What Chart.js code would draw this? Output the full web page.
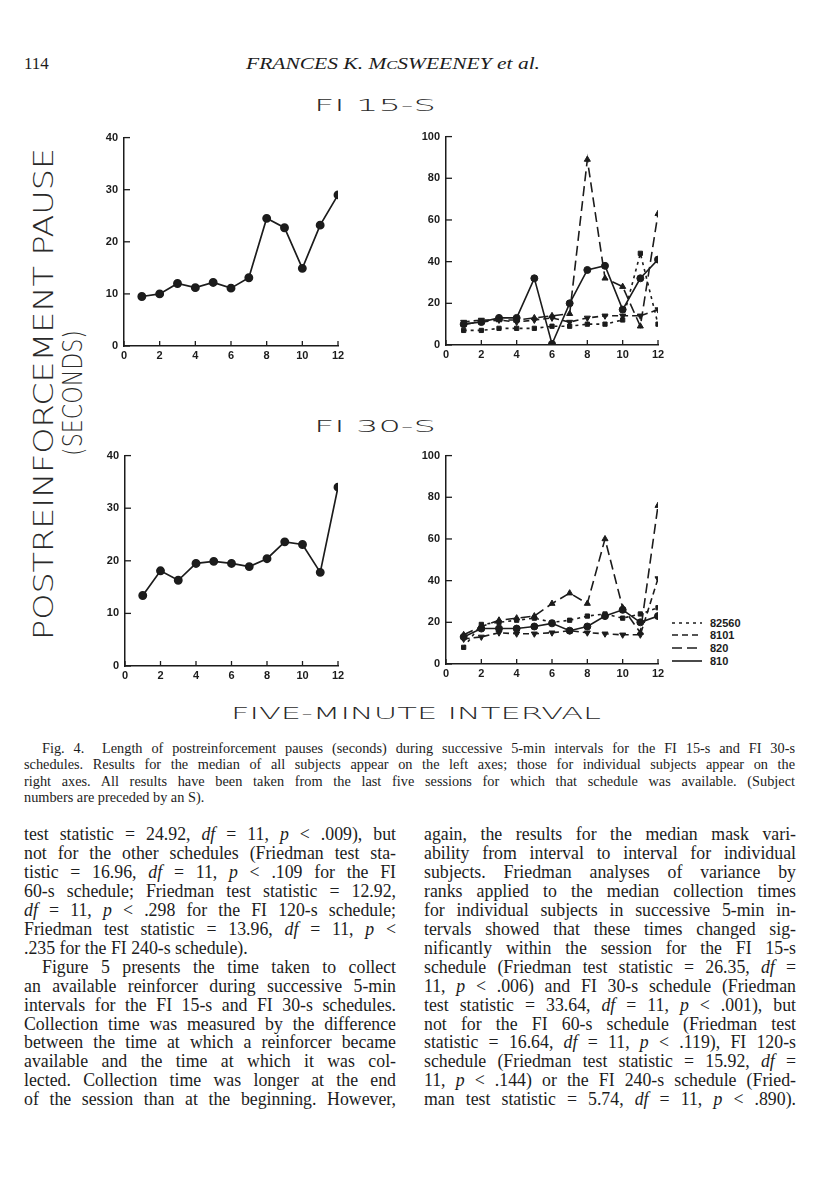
<!DOCTYPE html>
<html>
<head>
<meta charset="utf-8">
<script src="https://cdn.jsdelivr.net/npm/chart.js@4.4.1/dist/chart.umd.min.js"></script>
<style>
  body { margin: 0; background: #fff; width: 816px; height: 1200px; position: relative; overflow: hidden;
         font-family: "Liberation Serif", "Times New Roman", serif; color: #1c1c1c; }
  canvas { position: absolute; }
  svg.page { position: absolute; left: 0; top: 0; }
  .cap { position: absolute; left: 24px; width: 771px; font-size: 14.3px; line-height: 16.4px; }
  .col { position: absolute; top: 825px; width: 372px; font-size: 17.8px; line-height: 18.95px; }
  .j { text-align: justify; text-align-last: justify; }
  .ind { text-indent: 18px; }
</style>
</head>
<body>

<svg class="page" width="816" height="1200">
  <g fill="#1c1c1c">
    <text x="24" y="69" font-family="Liberation Serif" font-size="17">114</text>
    <text x="246" y="69" font-family="Liberation Serif" font-size="17" font-style="italic" textLength="294" lengthAdjust="spacingAndGlyphs">FRANCES K. M<tspan font-size="13">C</tspan>SWEENEY et al.</text>
  </g>
  <g fill="#2a2a2a" font-family="DejaVu Sans" font-weight="300">
    <text x="314" y="111" font-size="16.5" textLength="122" lengthAdjust="spacingAndGlyphs">FI 15-S</text>
    <text x="314" y="432" font-size="16.5" textLength="122" lengthAdjust="spacingAndGlyphs">FI 30-S</text>
    <text x="231" y="719" font-size="16.5" textLength="370" lengthAdjust="spacingAndGlyphs">FIVE-MINUTE INTERVAL</text>
    <text transform="translate(53,640) rotate(-90)" font-size="26" textLength="492" lengthAdjust="spacingAndGlyphs">POSTREINFORCEMENT PAUSE</text>
    <text transform="translate(82,456) rotate(-90)" font-size="27" textLength="126" lengthAdjust="spacingAndGlyphs">(SECONDS)</text>
  </g>
  <g id="legend" stroke="#1c1c1c" stroke-width="1.6" fill="#1c1c1c" font-family="Liberation Sans" font-weight="bold" font-size="11"></g>
</svg>

<canvas id="fi15Median"></canvas>
<canvas id="fi15Subjects"></canvas>
<canvas id="fi30Median"></canvas>
<canvas id="fi30Subjects"></canvas>

<div class="cap" style="top:740px">
  <div class="j" style="padding-left:18px">Fig. 4.&nbsp; Length of postreinforcement pauses (seconds) during successive 5-min intervals for the FI 15-s and FI 30-s</div>
  <div class="j">schedules. Results for the median of all subjects appear on the left axes; those for individual subjects appear on the</div>
  <div class="j">right axes. All results have been taken from the last five sessions for which that schedule was available. (Subject</div>
  <div>numbers are preceded by an S).</div>
</div>

<div class="col" style="left:24px">
  <div class="j">test statistic = 24.92, <i>df</i> = 11, <i>p</i> &lt; .009), but</div>
  <div class="j">not for the other schedules (Friedman test sta-</div>
  <div class="j">tistic = 16.96, <i>df</i> = 11, <i>p</i> &lt; .109 for the FI</div>
  <div class="j">60-s schedule; Friedman test statistic = 12.92,</div>
  <div class="j"><i>df</i> = 11, <i>p</i> &lt; .298 for the FI 120-s schedule;</div>
  <div class="j">Friedman test statistic = 13.96, <i>df</i> = 11, <i>p</i> &lt;</div>
  <div>.235 for the FI 240-s schedule).</div>
  <div class="j ind">Figure 5 presents the time taken to collect</div>
  <div class="j">an available reinforcer during successive 5-min</div>
  <div class="j">intervals for the FI 15-s and FI 30-s schedules.</div>
  <div class="j">Collection time was measured by the difference</div>
  <div class="j">between the time at which a reinforcer became</div>
  <div class="j">available and the time at which it was col-</div>
  <div class="j">lected. Collection time was longer at the end</div>
  <div class="j">of the session than at the beginning. However,</div>
</div>

<div class="col" style="left:424px">
  <div class="j">again, the results for the median mask vari-</div>
  <div class="j">ability from interval to interval for individual</div>
  <div class="j">subjects. Friedman analyses of variance by</div>
  <div class="j">ranks applied to the median collection times</div>
  <div class="j">for individual subjects in successive 5-min in-</div>
  <div class="j">tervals showed that these times changed sig-</div>
  <div class="j">nificantly within the session for the FI 15-s</div>
  <div class="j">schedule (Friedman test statistic = 26.35, <i>df</i> =</div>
  <div class="j">11, <i>p</i> &lt; .006) and FI 30-s schedule (Friedman</div>
  <div class="j">test statistic = 33.64, <i>df</i> = 11, <i>p</i> &lt; .001), but</div>
  <div class="j">not for the FI 60-s schedule (Friedman test</div>
  <div class="j">statistic = 16.64, <i>df</i> = 11, <i>p</i> &lt; .119), FI 120-s</div>
  <div class="j">schedule (Friedman test statistic = 15.92, <i>df</i> =</div>
  <div class="j">11, <i>p</i> &lt; .144) or the FI 240-s schedule (Fried-</div>
  <div class="j">man test statistic = 5.74, <i>df</i> = 11, <i>p</i> &lt; .890).</div>
</div>

<script>
// five-minute intervals within the session
const intervals = [1, 2, 3, 4, 5, 6, 7, 8, 9, 10, 11, 12];
const xTickValues = [0, 2, 4, 6, 8, 10, 12];
const medianTickValues = [0, 10, 20, 30, 40];
const subjectTickValues = [0, 20, 40, 60, 80, 100];

// median of all subjects (left axes)
const fi15Median = [9.5, 10, 12, 11.2, 12.2, 11.1, 13.1, 24.5, 22.7, 14.9, 23.2, 29];
const fi30Median = [13.4, 18.1, 16.3, 19.5, 19.9, 19.5, 18.9, 20.4, 23.6, 23.1, 17.8, 34];

// individual subjects (right axes)
const subjectNames = ['82560', '8101', '820', '810'];
const fi15S82560 = [7, 7, 8, 8, 8, 9, 9, 10, 10, 12, 44, 10];
const fi15S8101 = [11, 12, 12, 11, 12, 13, 11, 13, 14, 14, 14, 17];
const fi15S820 = [10, 11, 12, 12, 13, 14, 15, 89, 32, 28, 9, 63];
const fi15S810 = [10, 11, 13, 13, 32, 0.5, 20, 36, 38, 17, 32, 41];
const fi30S82560 = [8, 19, 20, 21, 22, 20, 21, 23, 24, 22, 24, 27];
const fi30S8101 = [12, 13, 15, 14.5, 14.5, 15, 16, 15, 14.5, 14, 14, 41];
const fi30S820 = [14, 18, 21, 22, 23, 29, 34, 29, 60, 27, 15, 76];
const fi30S810 = [13, 17, 17, 17, 18, 19.5, 16, 18, 23, 26, 20, 23];

const INK = '#1c1c1c';
const Y_W = 34, X_H = 22, PAD_T = 10, PAD_R = 14;
const tickFont = { family: '"Liberation Sans", Arial, sans-serif', size: 11, weight: 'bold' };

// line style per subject: dash pattern and marker
const subjectStyle = {
    '82560': { dash: [3, 4], point: 'rect', radius: 3, rot: 0 },
    '8101': { dash: [6, 4], point: 'triangle', radius: 3.5, rot: 180 },
    '820': { dash: [10, 5], point: 'triangle', radius: 3.5, rot: 0 },
    '810': { dash: [], point: 'circle', radius: 3.5, rot: 0 }
};

function pts(values) {
    return values.map((v, i) => ({ x: intervals[i], y: v }));
}

// short tick marks pointing into the plot, like the original
const inwardTicks = {
    id: 'inwardTicks',
    afterDraw(chart) {
        const { ctx, chartArea, scales: { x, y } } = chart;
        ctx.save();
        ctx.strokeStyle = INK;
        ctx.lineWidth = 1.3;
        x.ticks.forEach(t => {
            const px = x.getPixelForValue(t.value);
            ctx.beginPath(); ctx.moveTo(px, chartArea.bottom); ctx.lineTo(px, chartArea.bottom - 5); ctx.stroke();
        });
        y.ticks.forEach(t => {
            const py = y.getPixelForValue(t.value);
            ctx.beginPath(); ctx.moveTo(chartArea.left, py); ctx.lineTo(chartArea.left + 6, py); ctx.stroke();
        });
        ctx.restore();
    }
};

function axes(yTicks) {
    return {
        x: {
            type: 'linear', min: 0, max: 12,
            afterBuildTicks: s => { s.ticks = xTickValues.map(v => ({ value: v })); },
            afterFit: s => { s.height = X_H; },
            grid: { display: false, drawTicks: false },
            border: { display: true, color: INK, width: 1.5 },
            ticks: { color: INK, font: tickFont, padding: 3, maxRotation: 0, autoSkip: false }
        },
        y: {
            type: 'linear', min: 0, max: yTicks[yTicks.length - 1],
            afterBuildTicks: s => { s.ticks = yTicks.map(v => ({ value: v })); },
            afterFit: s => { s.width = Y_W; },
            grid: { display: false, drawTicks: false },
            border: { display: true, color: INK, width: 1.5 },
            ticks: { color: INK, font: tickFont, padding: 6 }
        }
    };
}

function panel(id, area, datasets, yTicks) {
    const cv = document.getElementById(id);
    const w = Y_W + (area.right - area.left) + PAD_R;
    const h = PAD_T + (area.bottom - area.top) + X_H;
    cv.width = w; cv.height = h;
    cv.style.left = (area.left - Y_W) + 'px';
    cv.style.top = (area.top - PAD_T) + 'px';
    cv.style.width = w + 'px'; cv.style.height = h + 'px';
    return new Chart(cv.getContext('2d'), {
        type: 'line',
        data: { datasets: datasets },
        options: {
            responsive: false,
            animation: false,
            layout: { padding: { top: PAD_T, right: PAD_R, left: 0, bottom: 0 } },
            plugins: { legend: { display: false }, tooltip: { enabled: false } },
            scales: axes(yTicks)
        },
        plugins: [inwardTicks]
    });
}

function medianSet(values) {
    return {
        data: pts(values), borderColor: INK, borderWidth: 1.7, tension: 0,
        pointStyle: 'circle', pointRadius: 3.6, pointBackgroundColor: INK, pointBorderColor: INK
    };
}

function subjectSet(name, values) {
    const st = subjectStyle[name];
    return {
        label: name, data: pts(values), borderColor: INK, borderWidth: 1.6, borderDash: st.dash, tension: 0,
        pointStyle: st.point, pointRadius: st.radius, pointRotation: st.rot,
        pointBackgroundColor: INK, pointBorderColor: INK, pointBorderWidth: 1
    };
}

panel('fi15Median', { left: 124, top: 135, right: 338, bottom: 346 }, [medianSet(fi15Median)], medianTickValues);
panel('fi30Median', { left: 125, top: 453, right: 338, bottom: 666 }, [medianSet(fi30Median)], medianTickValues);

panel('fi15Subjects', { left: 446, top: 134, right: 658, bottom: 345 }, [
    subjectSet('82560', fi15S82560),
    subjectSet('8101', fi15S8101),
    subjectSet('820', fi15S820),
    subjectSet('810', fi15S810)
], subjectTickValues);

panel('fi30Subjects', { left: 446, top: 453, right: 658, bottom: 664 }, [
    subjectSet('82560', fi30S82560),
    subjectSet('8101', fi30S8101),
    subjectSet('820', fi30S820),
    subjectSet('810', fi30S810)
], subjectTickValues);

// legend beside the lower right panel
const legend = document.getElementById('legend');
const rowY = [623, 635, 648, 661];
subjectNames.forEach((name, i) => {
    const ns = 'http://www.w3.org/2000/svg';
    const ln = document.createElementNS(ns, 'line');
    ln.setAttribute('x1', 672); ln.setAttribute('x2', 702);
    ln.setAttribute('y1', rowY[i]); ln.setAttribute('y2', rowY[i]);
    if (subjectStyle[name].dash.length) ln.setAttribute('stroke-dasharray', subjectStyle[name].dash.join(' '));
    legend.appendChild(ln);
    const tx = document.createElementNS(ns, 'text');
    tx.setAttribute('x', 710); tx.setAttribute('y', rowY[i] + 4);
    tx.setAttribute('stroke', 'none');
    tx.textContent = name;
    legend.appendChild(tx);
});
</script>
</body>
</html>
